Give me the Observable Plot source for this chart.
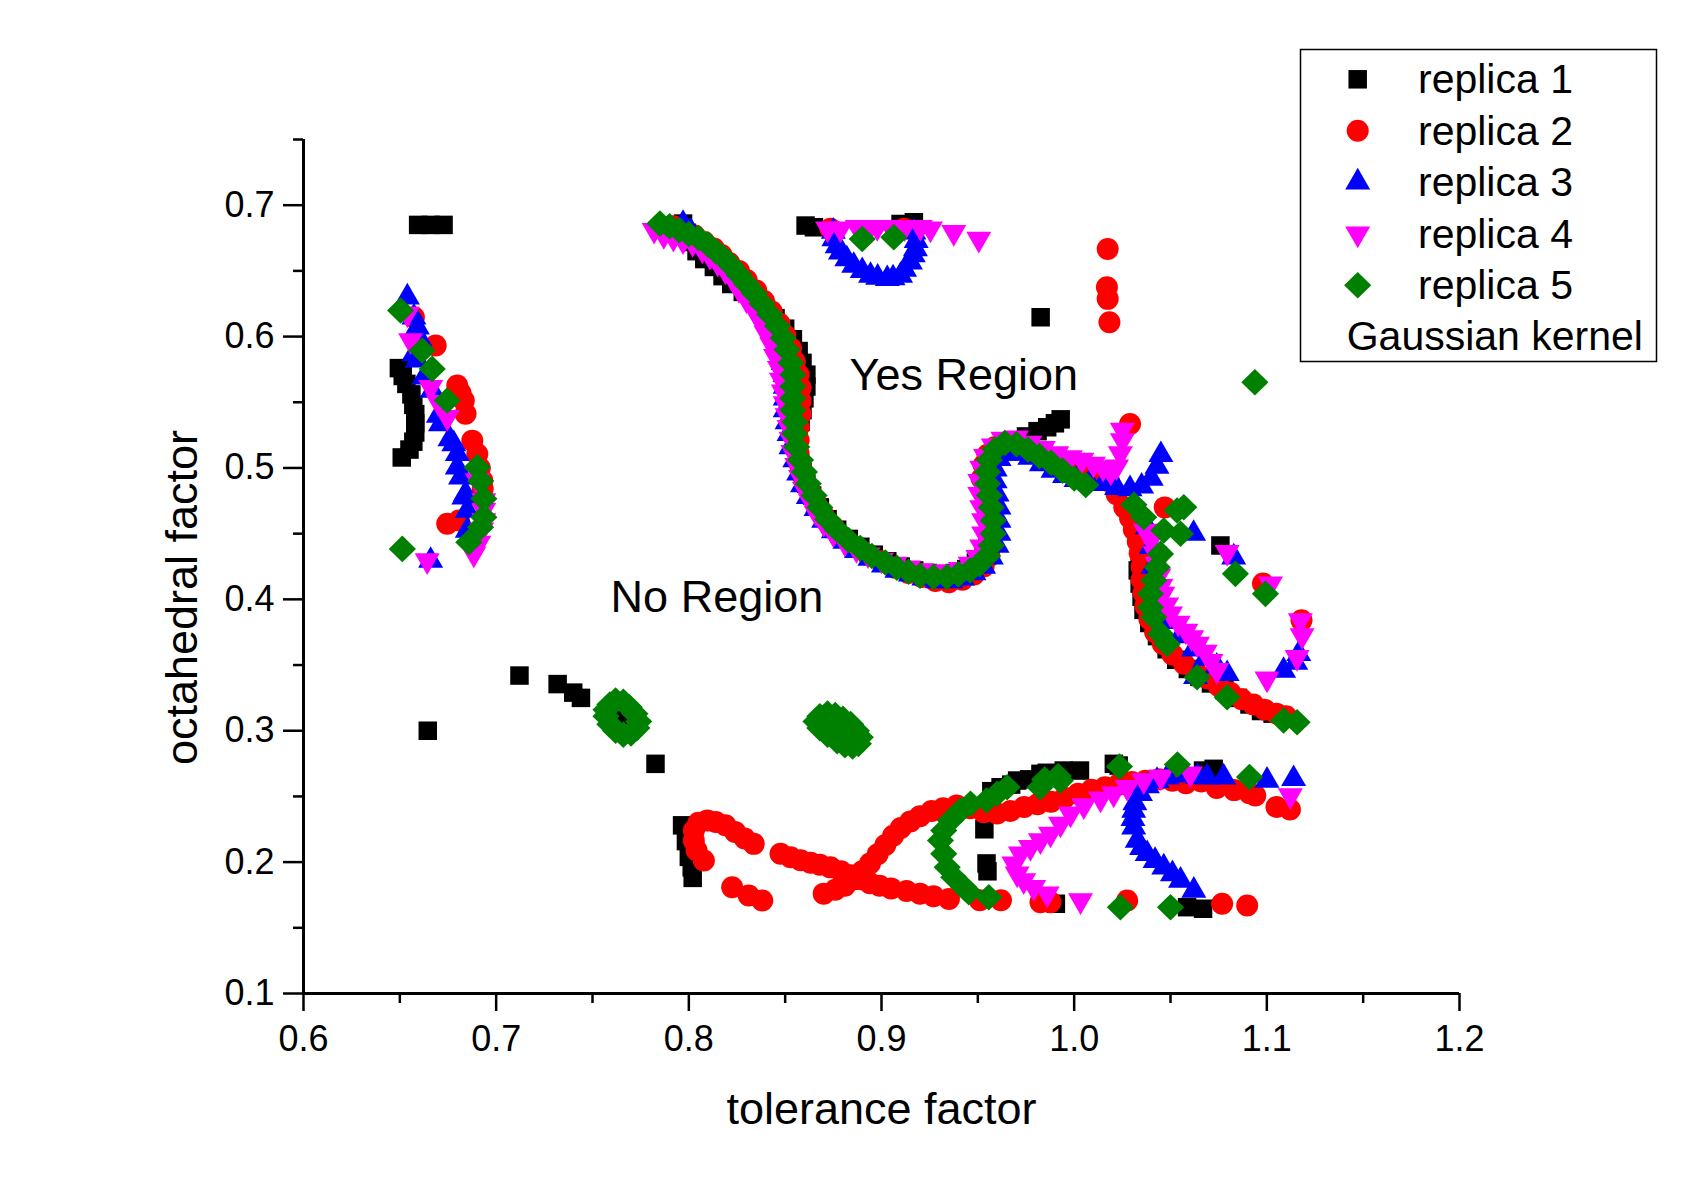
<!DOCTYPE html>
<html>
<head>
<meta charset="utf-8">
<script src="https://cdn.jsdelivr.net/npm/d3@7"></script>
<script src="https://cdn.jsdelivr.net/npm/@observablehq/plot@0.6"></script>
<style>
  body { margin: 0; background: #fff; }
</style>
</head>
<body>
<div id="chart"></div>
<script>
// Axis ticks
const xMajor = [0.6, 0.7, 0.8, 0.9, 1.0, 1.1, 1.2];
const xMinor = [0.65, 0.75, 0.85, 0.95, 1.05, 1.15];
const yMajor = [0.1, 0.2, 0.3, 0.4, 0.5, 0.6, 0.7];
const yMinor = [0.15, 0.25, 0.35, 0.45, 0.55, 0.65, 0.75];

const xTitle = ["tolerance factor"];
const yTitle = ["octahedral factor"];

// Region annotations
const regionText = ["Yes Region", "No Region"];
const regionX = [0.8834, 0.7594];
const regionY = [0.5595, 0.390];

const seriesNames = ["replica 1", "replica 2", "replica 3", "replica 4", "replica 5"];
const seriesColors = ["#000000", "#ff0000", "#0000ff", "#ff00ff", "#008000"];
const kernelLabel = "Gaussian kernel";

// ---- replica 1 (tolerance factor, octahedral factor) ----
const r1Top = [[0.6595,0.685],[0.666,0.685],[0.6727,0.685],[0.8606,0.6845],[0.8649,0.6832],[0.9099,0.6857],[0.9168,0.687]];
const r1Left = [[0.6495,0.576],[0.6515,0.570],[0.6534,0.564],[0.656,0.556],[0.657,0.548],[0.658,0.541],[0.658,0.534],[0.658,0.527],[0.657,0.520],[0.655,0.514],[0.651,0.508]];
const r1Arc = [[0.797,0.686],[0.799,0.679],[0.801,0.672],[0.804,0.665],[0.808,0.659],[0.813,0.653],[0.8175,0.646],[0.822,0.640],[0.828,0.634],[0.834,0.628],[0.840,0.621],[0.845,0.614],[0.850,0.606],[0.854,0.598],[0.857,0.589],[0.859,0.580],[0.861,0.571],[0.861,0.562],[0.860,0.553],[0.859,0.544],[0.858,0.535],[0.857,0.526],[0.856,0.517],[0.857,0.507],[0.859,0.497],[0.861,0.488],[0.864,0.479],[0.868,0.470],[0.872,0.461],[0.877,0.453],[0.883,0.446],[0.889,0.440],[0.896,0.434],[0.903,0.429],[0.910,0.425],[0.917,0.422],[0.924,0.420],[0.931,0.419],[0.938,0.420],[0.944,0.423],[0.949,0.428],[0.953,0.435],[0.955,0.443],[0.956,0.452],[0.956,0.462],[0.955,0.472],[0.954,0.482],[0.954,0.492],[0.955,0.502],[0.958,0.510],[0.962,0.515],[0.968,0.519],[0.975,0.524],[0.981,0.528],[0.986,0.531],[0.990,0.534],[0.993,0.537]];
const r1Right = [[1.034,0.432],[1.033,0.422],[1.034,0.412],[1.035,0.402],[1.036,0.392],[1.039,0.382],[1.043,0.372],[1.048,0.362],[1.053,0.354],[1.059,0.347],[1.065,0.341],[1.071,0.336],[1.078,0.331],[1.085,0.325],[1.091,0.320],[1.097,0.315],[1.103,0.313],[1.0759,0.441]];
const r1Scatter = [[0.6645,0.300],[0.7121,0.342],[0.7319,0.3355],[0.740,0.329],[0.744,0.325],[0.7827,0.2748],[0.9826,0.6147],[0.7635,0.310]];
const r1Bottom = [[0.7965,0.228],[0.7985,0.216],[0.800,0.204],[0.8015,0.196],[0.802,0.188],[0.9534,0.225],[0.9545,0.199],[0.955,0.193],[0.957,0.254],[0.9618,0.257],[0.9673,0.259],[0.9704,0.2621],[0.9766,0.263],[0.9825,0.2672],[0.9858,0.268],[0.9946,0.2697],[1.003,0.2697],[1.0206,0.2748],[1.0231,0.2735],[1.0669,0.2697],[1.0724,0.271],[0.9905,0.1683],[1.0586,0.1657],[1.0669,0.1645]];

// ---- replica 2 ----
const r2Left = [[0.6573,0.6147],[0.6686,0.5932],[0.6798,0.5627],[0.6815,0.557],[0.6832,0.5513],[0.6841,0.5412],[0.6876,0.5208],[0.6902,0.5107],[0.6915,0.500],[0.6928,0.4904],[0.693,0.484],[0.6746,0.4575],[0.6807,0.460]];
const r2Arc = [[0.792,0.684],[0.798,0.681],[0.803,0.677],[0.808,0.672],[0.813,0.667],[0.817,0.662],[0.821,0.656],[0.826,0.650],[0.830,0.643],[0.835,0.635],[0.839,0.627],[0.843,0.619],[0.847,0.610],[0.850,0.601],[0.853,0.591],[0.855,0.581],[0.857,0.571],[0.858,0.561],[0.858,0.551],[0.858,0.541],[0.857,0.531],[0.857,0.521],[0.857,0.511],[0.858,0.501],[0.860,0.491],[0.863,0.482],[0.866,0.473],[0.870,0.464],[0.875,0.455],[0.880,0.447],[0.886,0.440],[0.893,0.434],[0.900,0.429],[0.907,0.424],[0.914,0.420],[0.921,0.417],[0.928,0.414],[0.935,0.413],[0.942,0.415],[0.948,0.419],[0.953,0.425],[0.956,0.433],[0.957,0.442],[0.957,0.452],[0.956,0.462],[0.954,0.472],[0.953,0.482],[0.952,0.492],[0.953,0.502],[0.955,0.510],[0.959,0.516],[0.965,0.519],[0.971,0.517],[0.977,0.513],[0.983,0.509],[0.989,0.505],[0.995,0.501],[1.001,0.499],[1.007,0.498],[1.013,0.497],[1.018,0.490],[1.022,0.480]];
const r2Right = [[1.026,0.470],[1.029,0.462],[1.031,0.453],[1.033,0.444],[1.034,0.435],[1.035,0.425],[1.035,0.415],[1.036,0.405],[1.037,0.395],[1.039,0.385],[1.042,0.375],[1.046,0.366],[1.051,0.358],[1.057,0.351],[1.063,0.345],[1.069,0.340],[1.075,0.334],[1.081,0.329],[1.087,0.324],[1.093,0.320],[1.099,0.316],[1.105,0.313],[1.110,0.311],[1.047,0.470],[1.098,0.412],[1.118,0.384]];
const r2Top = [[0.8735,0.682],[0.9116,0.682],[1.0174,0.6667],[1.017,0.6375],[1.0174,0.6287],[1.0183,0.6109],[1.029,0.5335]];
const r2Bottom = [[0.8078,0.2012],[0.8040,0.2090],[0.8026,0.2164],[0.8026,0.2240],[0.8050,0.2300],[0.8096,0.2317],[0.8140,0.2305],[0.8190,0.2280],[0.8240,0.2230],[0.8290,0.2180],[0.8337,0.2139],
  [0.8225,0.1809],[0.8311,0.1746],[0.8381,0.1708],
  [0.8476,0.2063],[0.8528,0.2037],[0.858,0.2015],[0.8632,0.1995],[0.868,0.198],[0.8735,0.196],[0.879,0.193],[0.884,0.190],[0.889,0.187],[0.894,0.184],[0.899,0.182],[0.905,0.180],[0.913,0.178],[0.920,0.176],[0.927,0.174],[0.935,0.172],[0.951,0.171],[0.962,0.171],
  [0.870,0.176],[0.876,0.179],[0.881,0.182],[0.886,0.187],[0.890,0.193],[0.894,0.199],[0.898,0.206],[0.902,0.213],[0.906,0.220],[0.910,0.226],[0.915,0.231],[0.920,0.235],[0.926,0.239],[0.932,0.241],[0.939,0.243],
  [0.946,0.241],[0.953,0.238],[0.960,0.237],[0.967,0.239],[0.974,0.242],[0.981,0.244],[0.988,0.246],[0.995,0.249],[1.002,0.252],[1.009,0.255],[1.016,0.257],[1.023,0.259],[1.030,0.261],[1.037,0.262],[1.044,0.263],[1.051,0.262],[1.058,0.260],[1.066,0.2613],[1.074,0.2565],[1.083,0.2548],[1.091,0.2524],[1.094,0.2507],[1.105,0.242],[1.112,0.240],
  [0.9825,0.1695],[0.9877,0.1695],[1.0275,0.1708],[1.0768,0.1683],[1.0898,0.167]];

// ---- replica 3 ----
const r3Left = [[0.6539,0.6299],[0.6573,0.6147],[0.6591,0.6071],[0.6605,0.598],[0.6573,0.5868],[0.659,0.582],[0.6625,0.569],[0.6668,0.5589],[0.670,0.540],[0.6711,0.5335],[0.676,0.522],[0.678,0.5183],[0.6798,0.5107],[0.6798,0.5006],[0.6815,0.4929],[0.6832,0.4777],[0.6841,0.4803],[0.685,0.4676],[0.685,0.4524],[0.666,0.4295]];
const r3Arc = [[0.797,0.686],[0.801,0.680],[0.805,0.673],[0.810,0.667],[0.815,0.661],[0.820,0.655],[0.824,0.648],[0.828,0.641],[0.832,0.633],[0.836,0.625],[0.840,0.616],[0.843,0.607],[0.846,0.598],[0.848,0.589],[0.849,0.580],[0.850,0.571],[0.850,0.562],[0.850,0.553],[0.850,0.544],[0.851,0.535],[0.852,0.526],[0.853,0.516],[0.855,0.506],[0.857,0.496],[0.859,0.487],[0.862,0.478],[0.866,0.469],[0.870,0.460],[0.875,0.452],[0.881,0.444],[0.887,0.437],[0.894,0.431],[0.901,0.426],[0.908,0.422],[0.915,0.419],[0.922,0.416],[0.929,0.414],[0.936,0.414],[0.942,0.416],[0.948,0.420],[0.953,0.425],[0.957,0.432],[0.960,0.441],[0.961,0.450],[0.961,0.460],[0.961,0.470],[0.960,0.480],[0.959,0.490],[0.959,0.499],[0.961,0.507],[0.965,0.511],[0.971,0.511],[0.977,0.508],[0.983,0.503],[0.989,0.498],[0.995,0.494],[1.001,0.491],[1.008,0.489],[1.015,0.488],[1.022,0.485],[1.029,0.484],[1.035,0.486],[1.040,0.492],[1.043,0.501],[1.045,0.510]];
const r3Loop = [[0.875,0.680],[0.8753,0.6743],[0.877,0.669],[0.8787,0.6642],[0.882,0.659],[0.8856,0.654],[0.890,0.650],[0.8943,0.6464],[0.898,0.645],[0.903,0.6439],[0.906,0.6445],[0.9099,0.6464],[0.912,0.651],[0.915,0.6566],[0.9165,0.662],[0.9176,0.6667],[0.918,0.673],[0.9168,0.6794]];
const r3Right = [[1.038,0.455],[1.040,0.440],[1.041,0.425],[1.043,0.410],[1.046,0.395],[1.050,0.383],[1.055,0.372],[1.062,0.362],[1.068,0.355],[1.074,0.349],[1.0794,0.3433],[1.063,0.341],[1.062,0.450],[1.0828,0.432],[1.1087,0.3458],[1.115,0.352],[1.1166,0.3585]];
const r3Bottom = [[1.0344,0.252],[1.0315,0.245],[1.0309,0.2393],[1.0305,0.233],[1.0309,0.2266],[1.0327,0.2164],[1.035,0.211],[1.0379,0.2063],[1.042,0.201],[1.0465,0.1961],[1.051,0.191],[1.0552,0.186],[1.0621,0.1784],[1.038,0.258],[1.043,0.262],[1.0483,0.2646],[1.058,0.266],[1.064,0.265],[1.069,0.2646],[1.0776,0.2646],[1.1001,0.2621],[1.1139,0.2634]];

// ---- replica 4 ----
const r4Left = [[0.6539,0.6173],[0.6556,0.597],[0.666,0.5614],[0.670,0.550],[0.6746,0.5386],[0.6902,0.4904],[0.6936,0.4752],[0.6936,0.468],[0.6936,0.46],[0.6925,0.453],[0.691,0.443],[0.6884,0.4346],[0.6642,0.4295]];
const r4Arc = [[0.782,0.681],[0.787,0.677],[0.792,0.675],[0.797,0.673],[0.802,0.671],[0.807,0.666],[0.811,0.661],[0.815,0.656],[0.819,0.650],[0.823,0.643],[0.826,0.636],[0.830,0.628],[0.834,0.620],[0.837,0.612],[0.840,0.603],[0.843,0.594],[0.845,0.585],[0.847,0.576],[0.848,0.567],[0.849,0.558],[0.850,0.549],[0.851,0.540],[0.852,0.531],[0.853,0.522],[0.854,0.512],[0.856,0.502],[0.858,0.493],[0.860,0.484],[0.863,0.475],[0.866,0.466],[0.870,0.458],[0.875,0.450],[0.881,0.443],[0.887,0.438],[0.893,0.434],[0.900,0.430],[0.907,0.427],[0.914,0.424],[0.921,0.422],[0.928,0.421],[0.935,0.421],[0.941,0.423],[0.946,0.427],[0.950,0.432],[0.952,0.440],[0.953,0.450],[0.953,0.460],[0.952,0.470],[0.951,0.480],[0.951,0.490],[0.952,0.500],[0.954,0.509],[0.958,0.517],[0.963,0.522],[0.970,0.523],[0.977,0.519],[0.984,0.515],[0.991,0.511],[0.998,0.508],[1.004,0.506],[1.010,0.503],[1.015,0.500],[1.019,0.497],[1.022,0.501],[1.024,0.511],[1.025,0.521],[1.025,0.529]];
const r4Loop = [[0.872,0.682],[0.8787,0.682],[0.8874,0.6832],[0.894,0.6832],[0.8978,0.6832],[0.9047,0.6832],[0.912,0.683],[0.9202,0.6832],[0.9254,0.682],[0.9375,0.6794],[0.9505,0.6743]];
const r4Right = [[1.037,0.452],[1.040,0.445],[1.042,0.435],[1.043,0.427],[1.044,0.418],[1.045,0.410],[1.046,0.404],[1.048,0.396],[1.050,0.389],[1.054,0.382],[1.058,0.376],[1.061,0.371],[1.064,0.366],[1.068,0.360],[1.071,0.353],[1.074,0.346],[1.0794,0.4358],[1.1019,0.4118],[1.1174,0.3839],[1.1183,0.3725],[1.1157,0.3559],[1.1001,0.3395]];
const r4Bottom = [[0.9877,0.2215],[0.9825,0.2164],[0.9773,0.2113],[0.9721,0.2063],[0.9687,0.1987],[0.9704,0.1911],[0.9738,0.186],[0.979,0.1809],[0.986,0.1759],[1.0033,0.1708],[0.9929,0.2291],[0.9981,0.2368],[1.005,0.2431],[1.0137,0.2482],[1.0205,0.252],[1.0275,0.257],[1.0361,0.2621],[1.045,0.265],[1.0603,0.2672],[1.1122,0.2507]];

// ---- replica 5 ----
const r5Left = [[0.6504,0.6198],[0.6616,0.5894],[0.6668,0.5754],[0.6746,0.5513],[0.6902,0.5006],[0.692,0.49],[0.6936,0.4765],[0.6936,0.4625],[0.6919,0.4549],[0.6858,0.4435],[0.6513,0.4384]];
const r5Arc = [[0.785,0.686],[0.790,0.684],[0.795,0.681],[0.800,0.678],[0.805,0.675],[0.810,0.670],[0.814,0.665],[0.818,0.660],[0.822,0.654],[0.826,0.647],[0.830,0.640],[0.834,0.633],[0.838,0.625],[0.842,0.617],[0.846,0.608],[0.849,0.599],[0.851,0.590],[0.853,0.580],[0.854,0.571],[0.854,0.562],[0.854,0.553],[0.854,0.544],[0.855,0.535],[0.855,0.526],[0.856,0.516],[0.858,0.506],[0.860,0.497],[0.862,0.488],[0.865,0.479],[0.868,0.470],[0.872,0.461],[0.877,0.453],[0.883,0.445],[0.889,0.439],[0.895,0.433],[0.902,0.428],[0.908,0.424],[0.914,0.421],[0.920,0.418],[0.927,0.417],[0.934,0.417],[0.940,0.419],[0.946,0.422],[0.951,0.427],[0.955,0.433],[0.957,0.441],[0.958,0.450],[0.958,0.460],[0.957,0.470],[0.956,0.479],[0.955,0.488],[0.955,0.497],[0.956,0.506],[0.959,0.514],[0.964,0.519],[0.970,0.518],[0.976,0.514],[0.982,0.509],[0.988,0.504],[0.994,0.498],[1.000,0.492],[1.006,0.487]];
const r5Loop = [[0.89,0.6743],[0.9064,0.6756]];
const r5Right = [[1.031,0.472],[1.0361,0.4625],[1.0465,0.4524],[1.0534,0.4676],[1.0569,0.4701],[1.0552,0.4499],[1.0448,0.4346],[1.0431,0.4244],[1.0413,0.4143],[1.0396,0.4042],[1.0396,0.394],[1.0413,0.3864],[1.0448,0.3737],[1.0483,0.3661],[1.0638,0.3407],[1.0794,0.3255],[1.1087,0.3078],[1.1157,0.3065],[1.0837,0.4194],[1.0993,0.4042],[1.0938,0.5652]];
const r5Bottom = [[0.9453,0.1771],[0.9427,0.1809],[0.9375,0.1885],[0.9341,0.1961],[0.9323,0.2063],[0.9306,0.2164],[0.9323,0.2241],[0.9358,0.2317],[0.9410,0.2393],[0.9462,0.2444],[0.9545,0.2469],[0.9600,0.2520],[0.9652,0.2570],[0.9823,0.2570],[0.9847,0.2629],[0.9928,0.2620],[0.9917,0.2655],[1.0235,0.2727],[1.0536,0.2743],[1.091,0.2647],[0.9557,0.1733],[1.0240,0.1657],[1.0500,0.1657]];
const r5Blob1 = [[0.759,0.320],[0.762,0.323],[0.766,0.322],[0.769,0.318],[0.772,0.313],[0.774,0.307],[0.773,0.302],[0.770,0.298],[0.766,0.297],[0.762,0.300],[0.759,0.305],[0.757,0.311],[0.757,0.316]];
const r5Blob2 = [[0.868,0.311],[0.872,0.313],[0.876,0.312],[0.880,0.309],[0.884,0.305],[0.887,0.300],[0.889,0.295],[0.888,0.290],[0.885,0.288],[0.881,0.289],[0.877,0.292],[0.872,0.297],[0.868,0.302],[0.866,0.307],[0.876,0.302],[0.880,0.298],[0.872,0.305],[0.882,0.296]];

const replicas = [
  [...r1Top, ...r1Left, ...r1Arc, ...r1Right, ...r1Scatter, ...r1Bottom],
  [...r2Left, ...r2Arc, ...r2Right, ...r2Top, ...r2Bottom],
  [...r3Left, ...r3Arc, ...r3Loop, ...r3Right, ...r3Bottom],
  [...r4Left, ...r4Arc, ...r4Loop, ...r4Right, ...r4Bottom],
  [...r5Left, ...r5Arc, ...r5Loop, ...r5Right, ...r5Bottom, ...r5Blob1, ...r5Blob2]
];

// Marker shapes (size = pi r^2, r = 10)
const markSquare = {draw(c, size) { const s = Math.sqrt(size / Math.PI) * 0.925; c.moveTo(-s, -s); c.lineTo(s, -s); c.lineTo(s, s); c.lineTo(-s, s); c.closePath(); }};
const markCircle = {draw(c, size) { const s = Math.sqrt(size / Math.PI) * 1.1; c.moveTo(s, 0); c.arc(0, 0, s, 0, 2 * Math.PI); c.closePath(); }};
const markUp = {draw(c, size) { const s = Math.sqrt(size / Math.PI); c.moveTo(0, -1.443 * s); c.lineTo(1.25 * s, 0.722 * s); c.lineTo(-1.25 * s, 0.722 * s); c.closePath(); }};
const markDown = {draw(c, size) { const s = Math.sqrt(size / Math.PI); c.moveTo(0, 1.443 * s); c.lineTo(1.25 * s, -0.722 * s); c.lineTo(-1.25 * s, -0.722 * s); c.closePath(); }};
const markDiamond = {draw(c, size) { const s = Math.sqrt(size / Math.PI); c.moveTo(0, -1.33 * s); c.lineTo(1.36 * s, 0); c.lineTo(0, 1.33 * s); c.lineTo(-1.36 * s, 0); c.closePath(); }};
const seriesSymbols = [markSquare, markCircle, markUp, markDown, markDiamond];

const regions = regionText.map((t, i) => ({label: t, x: regionX[i], y: regionY[i]}));
const font = "'Liberation Sans', Arial, Helvetica, sans-serif";

const svg = Plot.plot({
  width: 1696,
  height: 1192,
  marginLeft: 303,
  marginRight: 237,
  marginTop: 139,
  marginBottom: 199,
  style: {fontFamily: font, background: "white", color: "black"},
  x: {domain: [0.6, 1.2], label: null},
  y: {domain: [0.1, 0.75], label: null},
  marks: [
    ...replicas.map((pts, i) => Plot.dot(pts, {
      x: d => d[0], y: d => d[1], r: 10,
      symbol: seriesSymbols[i], fill: seriesColors[i], stroke: "none"
    })),
    Plot.ruleY([0.1], {stroke: "black", strokeWidth: 3}),
    Plot.ruleX([0.6], {stroke: "black", strokeWidth: 3}),
    Plot.axisX(xMajor, {tickSize: 18, tickPadding: 14, fontSize: 36, strokeWidth: 2.5, tickFormat: d => d.toFixed(1), label: null}),
    Plot.axisX(xMinor, {tickSize: 10, strokeWidth: 2.5, tickFormat: () => "", label: null}),
    Plot.axisY(yMajor, {tickSize: 20, tickPadding: 9, fontSize: 36, strokeWidth: 2.5, tickFormat: d => d.toFixed(1), label: null}),
    Plot.axisY(yMinor, {tickSize: 10, strokeWidth: 2.5, tickFormat: () => "", label: null}),
    Plot.text(xTitle, {text: d => d, frameAnchor: "bottom", lineAnchor: "bottom", dy: 130, fontSize: 45, fill: "black"}),
    Plot.text(yTitle, {text: d => d, frameAnchor: "left", rotate: -90, textAnchor: "middle", lineAnchor: "bottom", dx: -107, dy: 31, fontSize: 45, fill: "black"}),
    Plot.text(regions, {x: "x", y: "y", text: "label", textAnchor: "start", lineAnchor: "bottom", fontSize: 45, fill: "black"})
  ]
});

// Legend box in the upper right corner
const lg = d3.select(svg).append("g")
  .attr("font-family", font).attr("font-size", 41).attr("text-anchor", "start");
lg.append("rect").attr("x", 1300.5).attr("y", 49.5).attr("width", 356).attr("height", 312)
  .attr("fill", "white").attr("stroke", "black").attr("stroke-width", 1.5);
const symY = [79.3, 130.8, 182.3, 233.8, 285.3];
seriesNames.forEach((name, i) => {
  lg.append("path")
    .attr("transform", `translate(1357.7,${symY[i]})`)
    .attr("d", d3.symbol(seriesSymbols[i], Math.PI * 100)())
    .attr("fill", seriesColors[i]);
  lg.append("text").attr("x", 1418).attr("y", 93.3 + 51.4 * i)
    .attr("text-anchor", "start").attr("fill", "black").text(name);
});
lg.append("text").attr("x", 1346.7).attr("y", 350)
  .attr("text-anchor", "start").attr("fill", "black").text(kernelLabel);

document.getElementById("chart").appendChild(svg);
</script>
</body>
</html>
